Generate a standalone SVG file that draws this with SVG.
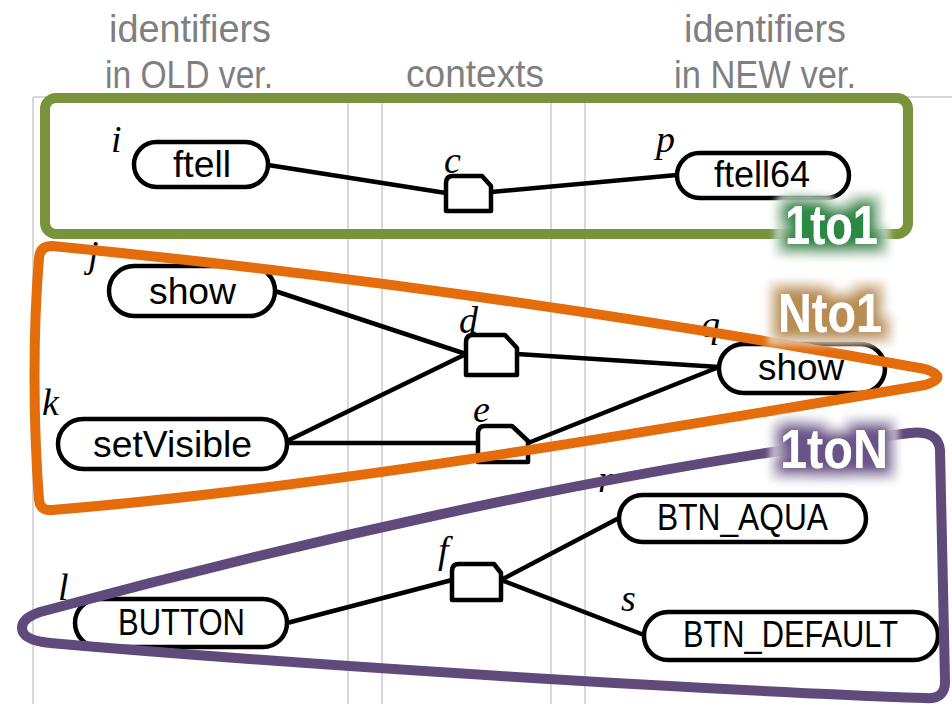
<svg xmlns="http://www.w3.org/2000/svg" width="952" height="704" viewBox="0 0 952 704">
<style>
.grid{stroke:#c8c8c8;stroke-width:1.4;fill:none}
.hdr{font-family:"Liberation Sans",Arial,sans-serif;font-size:38px;fill:#7f7f7f;text-anchor:middle}
.node rect{fill:#fff;stroke:#000;stroke-width:4.5}
.nt{font-family:"Liberation Sans",Arial,sans-serif;font-size:36px;fill:#000;text-anchor:middle}
.ctx path{fill:#fff;stroke:#000;stroke-width:4.5;stroke-linejoin:round}
.lbl{font-family:"Liberation Serif","Times New Roman",serif;font-style:italic;font-size:38px;fill:#000}
.conn line{stroke:#000;stroke-width:4.5;stroke-linecap:round}
.grp{fill:none;stroke-width:10;stroke-linejoin:round}
.badge{font-family:"Liberation Sans",Arial,sans-serif;font-weight:bold;font-size:55px;fill:#fff;text-anchor:middle}
</style>
<defs>
<filter id="glowG" x="-40%" y="-60%" width="180%" height="220%">
<feMorphology in="SourceAlpha" operator="dilate" radius="13" result="d2"/>
<feGaussianBlur in="d2" stdDeviation="3" result="b2"/>
<feFlood flood-color="#dcebe0" flood-opacity="0.8"/>
<feComposite in2="b2" operator="in" result="halo"/>
<feMorphology in="SourceAlpha" operator="dilate" radius="7" result="d"/>
<feGaussianBlur in="d" stdDeviation="6" result="b"/>
<feFlood flood-color="#2a8a45"/>
<feComposite in2="b" operator="in" result="glow"/>
<feMerge><feMergeNode in="halo"/><feMergeNode in="glow"/><feMergeNode in="SourceGraphic"/></feMerge>
</filter>
<filter id="glowN" x="-40%" y="-60%" width="180%" height="220%">
<feMorphology in="SourceAlpha" operator="dilate" radius="13" result="d2"/>
<feGaussianBlur in="d2" stdDeviation="3" result="b2"/>
<feFlood flood-color="#f2e8d6" flood-opacity="0.8"/>
<feComposite in2="b2" operator="in" result="halo"/>
<feMorphology in="SourceAlpha" operator="dilate" radius="7" result="d"/>
<feGaussianBlur in="d" stdDeviation="6" result="b"/>
<feFlood flood-color="#b88d52"/>
<feComposite in2="b" operator="in" result="glow"/>
<feMerge><feMergeNode in="halo"/><feMergeNode in="glow"/><feMergeNode in="SourceGraphic"/></feMerge>
</filter>
<filter id="glowP" x="-40%" y="-60%" width="180%" height="220%">
<feMorphology in="SourceAlpha" operator="dilate" radius="13" result="d2"/>
<feGaussianBlur in="d2" stdDeviation="3" result="b2"/>
<feFlood flood-color="#e9e4f0" flood-opacity="0.8"/>
<feComposite in2="b2" operator="in" result="halo"/>
<feMorphology in="SourceAlpha" operator="dilate" radius="7" result="d"/>
<feGaussianBlur in="d" stdDeviation="6" result="b"/>
<feFlood flood-color="#6b5389"/>
<feComposite in2="b" operator="in" result="glow"/>
<feMerge><feMergeNode in="halo"/><feMergeNode in="glow"/><feMergeNode in="SourceGraphic"/></feMerge>
</filter>
</defs>
<rect width="952" height="704" fill="#fff"/>
<g id="grid">
<line class="grid" x1="33" y1="97" x2="952" y2="97"/>
<line class="grid" x1="33" y1="97" x2="33" y2="704"/>
<line class="grid" x1="348" y1="97" x2="348" y2="704"/>
<line class="grid" x1="382" y1="97" x2="382" y2="704"/>
<line class="grid" x1="551" y1="97" x2="551" y2="704"/>
<line class="grid" x1="585" y1="97" x2="585" y2="704"/>
</g>
<g id="headers">
<text class="hdr" x="190" y="42" textLength="162" lengthAdjust="spacingAndGlyphs">identifiers</text>
<text class="hdr" x="189" y="88" textLength="168" lengthAdjust="spacingAndGlyphs">in OLD ver.</text>
<text class="hdr" x="475" y="87" textLength="138" lengthAdjust="spacingAndGlyphs">contexts</text>
<text class="hdr" x="765" y="42" textLength="162" lengthAdjust="spacingAndGlyphs">identifiers</text>
<text class="hdr" x="765" y="88" textLength="182" lengthAdjust="spacingAndGlyphs">in NEW ver.</text>
</g>
<g id="connectors" class="conn">
<line x1="268" y1="165" x2="446" y2="193"/>
<line x1="491" y1="192" x2="677" y2="175"/>
<line x1="275" y1="291" x2="466" y2="354"/>
<line x1="287" y1="441" x2="466" y2="354"/>
<line x1="287" y1="443" x2="478" y2="443"/>
<line x1="517" y1="354" x2="719" y2="367"/>
<line x1="528" y1="443" x2="719" y2="367"/>
<line x1="287" y1="623" x2="452" y2="580"/>
<line x1="501" y1="580" x2="619" y2="518"/>
<line x1="501" y1="580" x2="644" y2="635"/>
</g>
<g id="node-i" class="node"><rect x="134" y="142" width="134" height="45" rx="22.5"/><text class="nt" x="202" y="177" textLength="58" lengthAdjust="spacingAndGlyphs">ftell</text><text class="lbl" x="111" y="152">i</text></g>
<g id="node-p" class="node"><rect x="677" y="153" width="172" height="45" rx="22.5"/><text class="nt" x="762" y="187" textLength="96" lengthAdjust="spacingAndGlyphs">ftell64</text><text class="lbl" x="656" y="152">p</text></g>
<g id="node-j" class="node"><rect x="109" y="266" width="166" height="50" rx="25"/><text class="nt" x="192.5" y="304" textLength="87" lengthAdjust="spacingAndGlyphs">show</text><text class="lbl" x="88" y="267">j</text></g>
<g id="node-k" class="node"><rect x="58" y="419" width="229" height="50" rx="25"/><text class="nt" x="172.5" y="457" textLength="159" lengthAdjust="spacingAndGlyphs">setVisible</text><text class="lbl" x="42" y="415">k</text></g>
<g id="node-q" class="node"><rect x="719" y="344" width="166" height="49" rx="24.5"/><text class="nt" x="801" y="380" textLength="86" lengthAdjust="spacingAndGlyphs">show</text><text class="lbl" x="701" y="337">q</text></g>
<g id="node-l" class="node"><rect x="75" y="599" width="212" height="48" rx="24"/><text class="nt" x="181.5" y="635" textLength="127" lengthAdjust="spacingAndGlyphs">BUTTON</text><text class="lbl" x="58" y="600">l</text></g>
<g id="node-r" class="node"><rect x="619" y="495" width="247" height="47" rx="23.5"/><text class="nt" x="742.5" y="530" textLength="171" lengthAdjust="spacingAndGlyphs">BTN_AQUA</text><text class="lbl" x="598" y="492">r</text></g>
<g id="node-s" class="node"><rect x="644" y="612" width="294" height="48" rx="24"/><text class="nt" x="790.5" y="647" textLength="215" lengthAdjust="spacingAndGlyphs">BTN_DEFAULT</text><text class="lbl" x="621" y="611">s</text></g>
<g id="ctx-c" class="ctx"><path d="M446,211 V183 Q446,176 453,176 H482 L491,186 V211 Z"/><text class="lbl" x="444" y="173">c</text></g>
<g id="ctx-d" class="ctx"><path d="M466,375 V342 Q466,335 473,335 H505 L517,348 V375 Z"/><text class="lbl" x="459" y="333">d</text></g>
<g id="ctx-e" class="ctx"><path d="M478,462 V433 Q478,426 485,426 H512 L528,441 V462 Z"/><text class="lbl" x="473" y="422">e</text></g>
<g id="ctx-f" class="ctx"><path d="M452,600 V571 Q452,564 459,564 H494 L501,573 V600 Z"/><text class="lbl" x="438" y="563">f</text></g>
<g id="group-1to1">
<rect class="grp" x="45" y="98" width="863" height="136" rx="11" stroke="#77933c"/>
<text class="badge" x="831.5" y="244" textLength="93" lengthAdjust="spacingAndGlyphs" filter="url(#glowG)">1to1</text>
</g>
<g id="group-Nto1">
<path class="grp" stroke="#e46c0a" d="M52,246 C300,270 600,310 925,369 Q950,377 925,385 C600,440 300,490 52,510 Q40,511 39,500 C33,420 33,330 39,258 Q40,246 52,246 Z"/>
<text class="badge" x="830" y="332" textLength="104" lengthAdjust="spacingAndGlyphs" filter="url(#glowN)">Nto1</text>
</g>
<g id="group-1toN">
<path class="grp" stroke="#604a7b" d="M40,612 C250,555 600,470 910,433 Q938,430 940,450 L945,680 Q946,700 925,698 C700,690 300,665 50,643 Q22,640 22,628 Q22,618 40,612 Z"/>
<text class="badge" x="834" y="468" textLength="108" lengthAdjust="spacingAndGlyphs" filter="url(#glowP)">1toN</text>
</g>
</svg>
